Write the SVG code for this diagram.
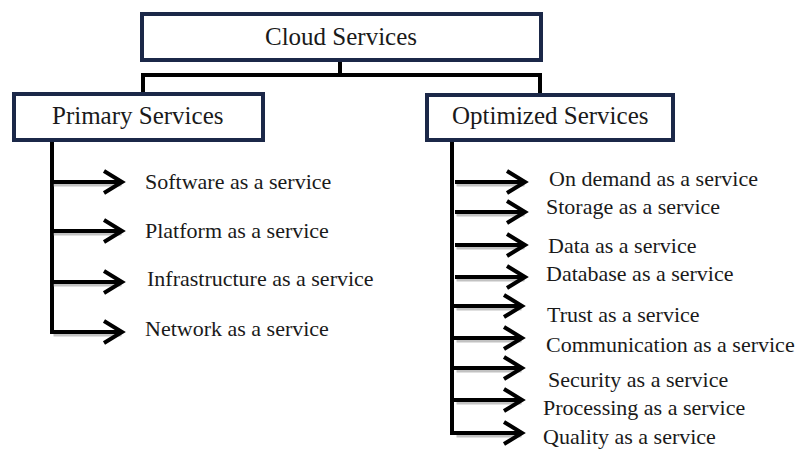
<svg xmlns="http://www.w3.org/2000/svg" width="799" height="450" viewBox="0 0 799 450">
  <style>
    .box { fill: #ffffff; stroke: #1b2848; stroke-width: 4; }
    .head { font-family: 'Liberation Serif', 'DejaVu Serif', serif; font-size: 25px; fill: #1a1a1a; }
    .item { font-family: 'Liberation Serif', 'DejaVu Serif', serif; font-size: 22px; fill: #1a1a1a; }
    .wire { fill: none; stroke: #000000; stroke-width: 4; stroke-linecap: butt; stroke-linejoin: miter; }
    .shade { fill: none; stroke: #9a9a9a; stroke-width: 4; opacity: 0.6; }
  </style>
  <defs>
    <!-- open chevron arrow, tip at (0,0), shaft drawn separately -->
    <path id="chev" d="M -18 -11 L 0 0 L -18 11"/>
  </defs>
  <rect width="799" height="450" fill="#ffffff"/>

  <g id="connectors">
    <!-- tree from the root box to the two category boxes -->
    <path class="wire" d="M 340 61 V 75 M 143 93 V 75 H 540 V 93"/>
    <!-- primary list spine -->
    <path class="wire" d="M 52 142 V 334"/>
    <!-- optimized list spine -->
    <path class="wire" d="M 452 142 V 435"/>

    <!-- soft shadows under arrows -->
    <g class="shade" transform="translate(1.5,2.5)">
      <path d="M 52 182 H 120 M 52 231 H 120 M 52 282 H 120 M 52 332 H 120"/>
      <path d="M 455 182 H 523 M 455 212 H 523 M 455 245 H 523 M 455 277 H 523 M 455 306 H 520 M 455 338 H 520 M 455 368 H 520 M 455 400 H 520 M 455 433 H 520"/>
    </g>

    <!-- primary arrows -->
    <g class="wire" stroke-width="4.5">
      <path d="M 52 182 H 120"/><use href="#chev" x="122" y="182"/>
      <path d="M 52 231 H 120"/><use href="#chev" x="122" y="231"/>
      <path d="M 52 282 H 120"/><use href="#chev" x="122" y="282"/>
      <path d="M 52 332 H 120"/><use href="#chev" x="122" y="332"/>
    </g>

    <!-- optimized arrows -->
    <g class="wire" stroke-width="4.5">
      <path d="M 455 182 H 523"/><use href="#chev" x="525" y="182"/>
      <path d="M 455 212 H 523"/><use href="#chev" x="525" y="212"/>
      <path d="M 455 245 H 523"/><use href="#chev" x="525" y="245"/>
      <path d="M 455 277 H 523"/><use href="#chev" x="525" y="277"/>
      <path d="M 452 306 H 520"/><use href="#chev" x="522" y="306"/>
      <path d="M 452 338 H 520"/><use href="#chev" x="522" y="338"/>
      <path d="M 452 368 H 520"/><use href="#chev" x="522" y="368"/>
      <path d="M 452 400 H 520"/><use href="#chev" x="522" y="400"/>
      <path d="M 452 433 H 520"/><use href="#chev" x="522" y="433"/>
    </g>
  </g>

  <g id="cloud-services">
    <rect class="box" x="142" y="14" width="399" height="46"/>
    <text class="head" x="341" y="45" text-anchor="middle">Cloud Services</text>
  </g>

  <g id="primary-services">
    <rect class="box" x="14" y="94" width="249" height="46"/>
    <text class="head" x="52" y="124">Primary Services</text>
  </g>

  <g id="optimized-services">
    <rect class="box" x="427" y="95" width="246" height="45"/>
    <text class="head" x="452" y="124">Optimized Services</text>
  </g>

  <g id="primary-items">
    <g id="saas"><text class="item" x="145" y="189">Software as a service</text></g>
    <g id="paas"><text class="item" x="145" y="238">Platform as a service</text></g>
    <g id="iaas"><text class="item" x="147" y="286">Infrastructure as a service</text></g>
    <g id="naas"><text class="item" x="145" y="336">Network as a service</text></g>
  </g>

  <g id="optimized-items">
    <g id="on-demand"><text class="item" x="549" y="186">On demand as a service</text></g>
    <g id="storage"><text class="item" x="546" y="214">Storage as a service</text></g>
    <g id="data"><text class="item" x="548" y="253">Data as a service</text></g>
    <g id="database"><text class="item" x="546" y="281">Database as a service</text></g>
    <g id="trust"><text class="item" x="547" y="322">Trust as a service</text></g>
    <g id="communication"><text class="item" x="546" y="352">Communication as a service</text></g>
    <g id="security"><text class="item" x="548" y="387">Security as a service</text></g>
    <g id="processing"><text class="item" x="543" y="415">Processing as a service</text></g>
    <g id="quality"><text class="item" x="543" y="444">Quality as a service</text></g>
  </g>
</svg>
